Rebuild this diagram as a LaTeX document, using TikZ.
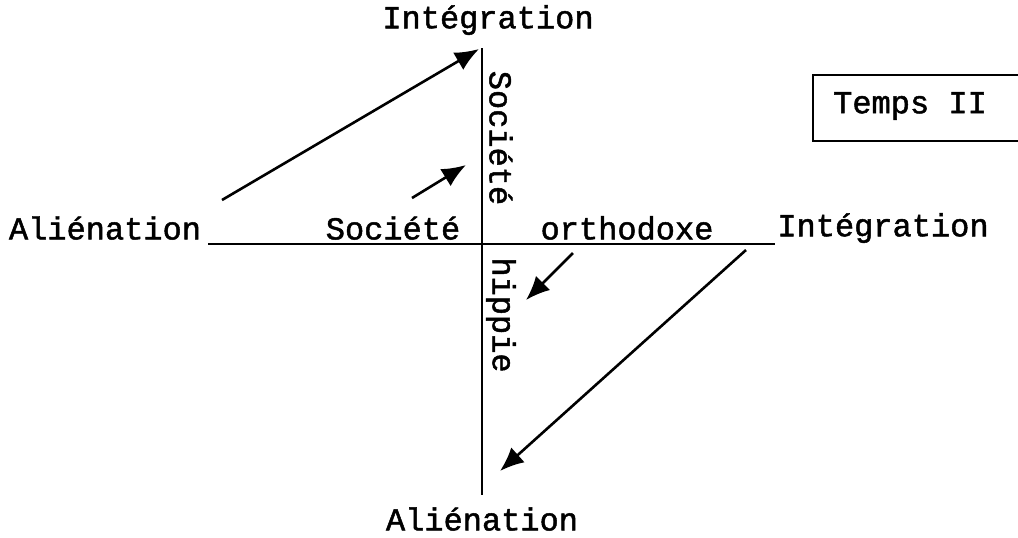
\documentclass[tikz,border=0pt]{standalone}
\usepackage{fontspec}
\setmonofont{Liberation Mono}[FakeBold=1.5]
\usetikzlibrary{arrows.meta}
\tikzset{
  lbl/.style={font=\ttfamily\fontsize{16}{19}\selectfont, inner sep=0pt},
  axe/.style={line width=1.4pt},
  fleche/.style={line width=1.3pt, -{Latex[length=12pt, width=10pt]}}
}
\begin{document}
\begin{tikzpicture}[x=0.5pt, y=-0.5pt]
    \useasboundingbox (0,0) rectangle (1018,537);

    % Axes
    \coordinate (hg) at (208,244);
    \coordinate (hd) at (775,244);
    \coordinate (vh) at (482,48);
    \coordinate (vb) at (482,495);
    \draw[axe] (hg) -- (hd);
    \draw[axe] (vh) -- (vb);

    % Extremites des axes
    \node[lbl] (inthaut) at (488,20) {Intégration};
    \node[lbl] (alibas) at (482,519) {Aliénation};
    \node[lbl] (aligauche) at (105,228) {Aliénation};
    \node[lbl] (intdroite) at (883,228) {Intégration};

    % Societe orthodoxe (horizontal) et societe hippie (vertical)
    \node[lbl] (soc1) at (393,228) {Société};
    \node[lbl] (ortho) at (627,228) {orthodoxe};
    \node[lbl, rotate=-90] (soc2) at (501,138) {Société};
    \node[lbl, rotate=-90] (hippie) at (501,315) {hippie};

    % Cadre Temps II (ouvert a droite)
    \node[lbl] (temps) at (910,106) {Temps II};
    \draw[line width=1.2pt] (1030,75) -- (813,75) -- (813,141) -- (1030,141);

    % Fleches
    \coordinate (a1) at (222,200);
    \coordinate (b1) at (479,49);
    \coordinate (a2) at (412,198);
    \coordinate (b2) at (466,165);
    \coordinate (a3) at (573,253);
    \coordinate (b3) at (526,300);
    \coordinate (a4) at (746,250);
    \coordinate (b4) at (500,471);
    \draw[fleche] (a1) -- (b1);
    \draw[fleche] (a2) -- (b2);
    \draw[fleche] (a3) -- (b3);
    \draw[fleche] (a4) -- (b4);
\end{tikzpicture}
\end{document}
